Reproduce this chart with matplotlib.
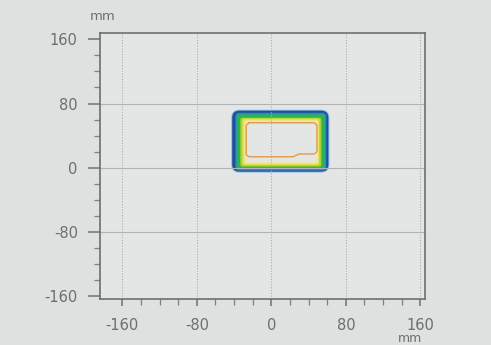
import numpy as np
import matplotlib
matplotlib.use("Agg")
import matplotlib.pyplot as plt
from matplotlib.patches import FancyBboxPatch

# ---- data (mm) ----
x_ticks = [-160, -80, 0, 80, 160]
y_ticks = [-160, -80, 0, 80, 160]
x_tick_labels = ["-160", "-80", "0", "80", "160"]
y_tick_labels = ["-160", "-80", "0", "80", "160"]

# contour bands, outermost first (edges in mm)
band_left = [-43.0, -42.0, -38.7, -37.6, -36.5, -33.3, -31.1, -29.0, -26.9]
band_right = [62.3, 61.2, 59.1, 58.0, 56.9, 53.7, 51.6, 50.5, 48.3]
band_top = [72.2, 71.0, 68.5, 67.3, 66.0, 62.3, 61.0, 59.1, 57.3]
band_bottom = [-6.2, -5.0, -3.7, -2.5, -1.2, 1.2, 3.1, 5.0, 6.8]

# innermost (orange) contour line
orange_x = [-24, 46, 49, 49, 46, 30, 23, -24, -27, -27, -24]
orange_y = [56, 56, 53, 20, 17, 17, 13.5, 13.5, 16, 53, 56]

# ---- styles ----
bg_fig = "#dde1e0"
bg_ax = "#e3e6e5"
band_colors = ["#8ab4dc", "#1d4f9a", "#2f7cc4", "#2aa39a", "#2fb24a",
               "#a9d236", "#e6e24a", "#efe7a8", bg_ax]
text_col = "#6e6e6e"

fig = plt.figure(figsize=(4.91, 3.45), dpi=100, facecolor=bg_fig)
ax = fig.add_axes([100 / 491, 46 / 345, 325 / 491, 266 / 345], facecolor=bg_ax)

ax.set_xlim(-184, 165)
ax.set_ylim(-164, 168)

aspect = 1.16  # y-units per x-unit for equal pixel rounding
for i, c in enumerate(band_colors):
    l, r = band_left[i], band_right[i]
    b, t = band_bottom[i], band_top[i]
    rad = max(8.6 - (l - band_left[0]), 2.0)
    p = FancyBboxPatch((l, b), r - l, t - b,
                       boxstyle=f"round,pad=0,rounding_size={rad}",
                       mutation_aspect=aspect, facecolor=c,
                       edgecolor="none", zorder=1)
    ax.add_patch(p)

ax.plot(orange_x, orange_y, color="#e59a4a", lw=1.0, zorder=3)

# grid
for v in x_ticks:
    ax.axvline(v, color="#a9adad", lw=0.8, ls=(0, (1, 1.5)), zorder=2)
for v in y_ticks[1:-1]:
    ax.axhline(v, color="#b0b4b4", lw=0.8, zorder=2)

for s in ax.spines.values():
    s.set_color("#6e6e6e")
    s.set_linewidth(1.2)

ax.set_xticks(x_ticks)
ax.set_xticklabels(x_tick_labels)
ax.set_yticks(y_ticks)
ax.set_yticklabels(y_tick_labels)
ax.set_xticks(np.arange(-160, 161, 20), minor=True)
ax.set_yticks(np.arange(-160, 161, 20), minor=True)

ax.tick_params(axis="x", which="major", direction="out", length=5, width=1.1,
               color="#707070", labelsize=10.5, labelcolor=text_col, pad=9)
ax.tick_params(axis="x", which="minor", direction="out", length=4, width=0.9,
               color="#808080")
ax.tick_params(axis="y", which="major", direction="out", length=9, width=1.1,
               color="#707070", labelsize=10.5, labelcolor=text_col, pad=7)
ax.tick_params(axis="y", which="minor", direction="out", length=4, width=0.9,
               color="#808080")

fig.text(103 / 491, 1 - 16 / 345, "mm", ha="center", va="center",
         fontsize=9.5, color=text_col)
fig.text(410 / 491, 0.0, "mm", ha="center", va="bottom",
         fontsize=9, color=text_col)

fig.savefig("out.png", dpi=100, facecolor=bg_fig)
